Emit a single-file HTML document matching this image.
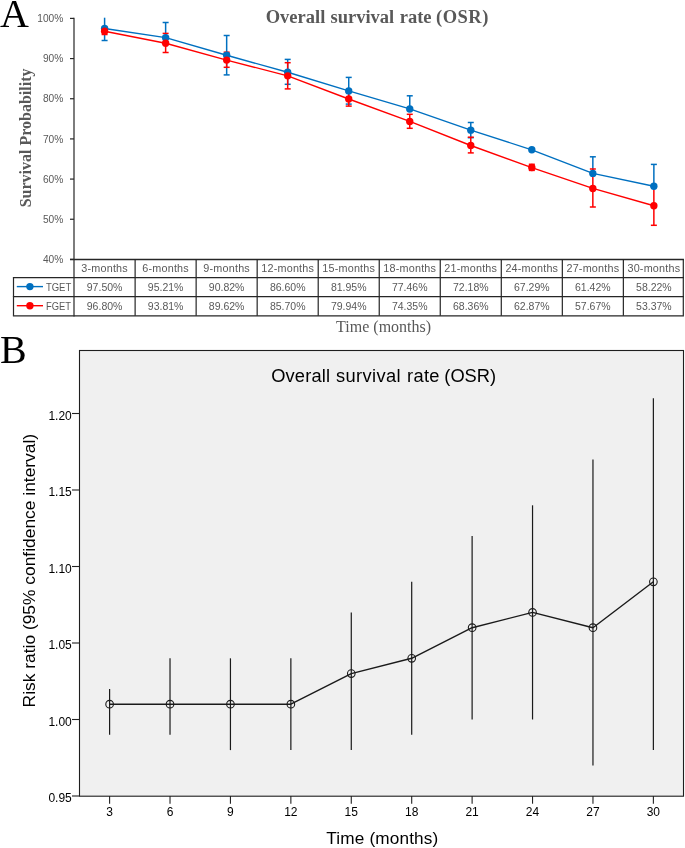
<!DOCTYPE html>
<html><head><meta charset="utf-8"><title>Overall survival rate (OSR)</title>
<style>
html,body{margin:0;padding:0;background:#fff;}
body{width:685px;height:848px;overflow:hidden;font-family:"Liberation Sans",sans-serif;}
svg{display:block;will-change:transform;}
svg text{font-family:"Liberation Sans",sans-serif;}
svg text[font-family="Liberation Serif"]{font-family:"Liberation Serif",serif;}
</style></head>
<body>
<svg width="685" height="848" viewBox="0 0 685 848">
<text x="0" y="27" font-family="Liberation Serif" font-size="40" fill="#000">A</text>
<text y="23.4" font-family="Liberation Serif" font-weight="bold" font-size="18.5" fill="#595959"><tspan x="265.7">Overall</tspan> <tspan x="330.5">survival</tspan> <tspan x="399.7">rate</tspan> <tspan x="436.0" letter-spacing="0.5">(OSR)</tspan></text>
<text transform="translate(30.5,137.9) rotate(-90)" text-anchor="middle" font-family="Liberation Serif" font-weight="bold" font-size="16" fill="#595959">Survival Probability</text>
<line x1="70" y1="18.40" x2="74" y2="18.40" stroke="#262626" stroke-width="1.2"/>
<text x="63.3" y="22.10" text-anchor="end" font-size="10.2" fill="#595959">100%</text>
<line x1="70" y1="58.57" x2="74" y2="58.57" stroke="#262626" stroke-width="1.2"/>
<text x="63.3" y="62.27" text-anchor="end" font-size="10.2" fill="#595959">90%</text>
<line x1="70" y1="98.74" x2="74" y2="98.74" stroke="#262626" stroke-width="1.2"/>
<text x="63.3" y="102.44" text-anchor="end" font-size="10.2" fill="#595959">80%</text>
<line x1="70" y1="138.91" x2="74" y2="138.91" stroke="#262626" stroke-width="1.2"/>
<text x="63.3" y="142.61" text-anchor="end" font-size="10.2" fill="#595959">70%</text>
<line x1="70" y1="179.08" x2="74" y2="179.08" stroke="#262626" stroke-width="1.2"/>
<text x="63.3" y="182.78" text-anchor="end" font-size="10.2" fill="#595959">60%</text>
<line x1="70" y1="219.25" x2="74" y2="219.25" stroke="#262626" stroke-width="1.2"/>
<text x="63.3" y="222.95" text-anchor="end" font-size="10.2" fill="#595959">50%</text>
<line x1="70" y1="259.42" x2="74" y2="259.42" stroke="#262626" stroke-width="1.2"/>
<text x="63.3" y="263.12" text-anchor="end" font-size="10.2" fill="#595959">40%</text>
<line x1="74.0" y1="17.8" x2="74.0" y2="316.4" stroke="#262626" stroke-width="1.2"/>
<line x1="70" y1="259.5" x2="683.95" y2="259.5" stroke="#262626" stroke-width="1.3"/>
<line x1="12.9" y1="277.6" x2="683.95" y2="277.6" stroke="#262626" stroke-width="1.3"/>
<line x1="12.9" y1="296.7" x2="683.95" y2="296.7" stroke="#262626" stroke-width="1.3"/>
<line x1="12.9" y1="315.8" x2="683.95" y2="315.8" stroke="#262626" stroke-width="1.3"/>
<line x1="13.5" y1="277.6" x2="13.5" y2="315.8" stroke="#262626" stroke-width="1.2"/>
<line x1="135.12" y1="259.5" x2="135.12" y2="315.8" stroke="#262626" stroke-width="1.2"/>
<line x1="196.14" y1="259.5" x2="196.14" y2="315.8" stroke="#262626" stroke-width="1.2"/>
<line x1="257.17" y1="259.5" x2="257.17" y2="315.8" stroke="#262626" stroke-width="1.2"/>
<line x1="318.21" y1="259.5" x2="318.21" y2="315.8" stroke="#262626" stroke-width="1.2"/>
<line x1="379.24" y1="259.5" x2="379.24" y2="315.8" stroke="#262626" stroke-width="1.2"/>
<line x1="440.26" y1="259.5" x2="440.26" y2="315.8" stroke="#262626" stroke-width="1.2"/>
<line x1="501.29" y1="259.5" x2="501.29" y2="315.8" stroke="#262626" stroke-width="1.2"/>
<line x1="562.33" y1="259.5" x2="562.33" y2="315.8" stroke="#262626" stroke-width="1.2"/>
<line x1="623.36" y1="259.5" x2="623.36" y2="315.8" stroke="#262626" stroke-width="1.2"/>
<line x1="683.30" y1="259.5" x2="683.30" y2="315.8" stroke="#262626" stroke-width="1.2"/>
<text x="104.60" y="271.7" text-anchor="middle" font-size="10.8" letter-spacing="0.2" fill="#595959">3-months</text>
<text x="104.60" y="290.7" text-anchor="middle" font-size="10.5" fill="#595959">97.50%</text>
<text x="104.60" y="309.8" text-anchor="middle" font-size="10.5" fill="#595959">96.80%</text>
<text x="165.63" y="271.7" text-anchor="middle" font-size="10.8" letter-spacing="0.2" fill="#595959">6-months</text>
<text x="165.63" y="290.7" text-anchor="middle" font-size="10.5" fill="#595959">95.21%</text>
<text x="165.63" y="309.8" text-anchor="middle" font-size="10.5" fill="#595959">93.81%</text>
<text x="226.66" y="271.7" text-anchor="middle" font-size="10.8" letter-spacing="0.2" fill="#595959">9-months</text>
<text x="226.66" y="290.7" text-anchor="middle" font-size="10.5" fill="#595959">90.82%</text>
<text x="226.66" y="309.8" text-anchor="middle" font-size="10.5" fill="#595959">89.62%</text>
<text x="287.69" y="271.7" text-anchor="middle" font-size="10.8" letter-spacing="0.2" fill="#595959">12-months</text>
<text x="287.69" y="290.7" text-anchor="middle" font-size="10.5" fill="#595959">86.60%</text>
<text x="287.69" y="309.8" text-anchor="middle" font-size="10.5" fill="#595959">85.70%</text>
<text x="348.72" y="271.7" text-anchor="middle" font-size="10.8" letter-spacing="0.2" fill="#595959">15-months</text>
<text x="348.72" y="290.7" text-anchor="middle" font-size="10.5" fill="#595959">81.95%</text>
<text x="348.72" y="309.8" text-anchor="middle" font-size="10.5" fill="#595959">79.94%</text>
<text x="409.75" y="271.7" text-anchor="middle" font-size="10.8" letter-spacing="0.2" fill="#595959">18-months</text>
<text x="409.75" y="290.7" text-anchor="middle" font-size="10.5" fill="#595959">77.46%</text>
<text x="409.75" y="309.8" text-anchor="middle" font-size="10.5" fill="#595959">74.35%</text>
<text x="470.78" y="271.7" text-anchor="middle" font-size="10.8" letter-spacing="0.2" fill="#595959">21-months</text>
<text x="470.78" y="290.7" text-anchor="middle" font-size="10.5" fill="#595959">72.18%</text>
<text x="470.78" y="309.8" text-anchor="middle" font-size="10.5" fill="#595959">68.36%</text>
<text x="531.81" y="271.7" text-anchor="middle" font-size="10.8" letter-spacing="0.2" fill="#595959">24-months</text>
<text x="531.81" y="290.7" text-anchor="middle" font-size="10.5" fill="#595959">67.29%</text>
<text x="531.81" y="309.8" text-anchor="middle" font-size="10.5" fill="#595959">62.87%</text>
<text x="592.84" y="271.7" text-anchor="middle" font-size="10.8" letter-spacing="0.2" fill="#595959">27-months</text>
<text x="592.84" y="290.7" text-anchor="middle" font-size="10.5" fill="#595959">61.42%</text>
<text x="592.84" y="309.8" text-anchor="middle" font-size="10.5" fill="#595959">57.67%</text>
<text x="653.87" y="271.7" text-anchor="middle" font-size="10.8" letter-spacing="0.2" fill="#595959">30-months</text>
<text x="653.87" y="290.7" text-anchor="middle" font-size="10.5" fill="#595959">58.22%</text>
<text x="653.87" y="309.8" text-anchor="middle" font-size="10.5" fill="#595959">53.37%</text>
<line x1="16.8" y1="286.6" x2="43" y2="286.6" stroke="#0070C0" stroke-width="1.4"/>
<circle cx="29.9" cy="286.6" r="3.7" fill="#0070C0"/>
<text x="45.9" y="290.8" font-size="10.4" textLength="25.4" lengthAdjust="spacingAndGlyphs" fill="#595959">TGET</text>
<line x1="16.8" y1="305.7" x2="43" y2="305.7" stroke="#FF0000" stroke-width="1.4"/>
<circle cx="29.9" cy="305.7" r="3.7" fill="#FF0000"/>
<text x="46.1" y="309.9" font-size="10.4" textLength="25.0" lengthAdjust="spacingAndGlyphs" fill="#595959">FGET</text>
<text x="383.6" y="332.1" text-anchor="middle" font-family="Liberation Serif" font-size="16" fill="#595959">Time (months)</text>
<polyline points="104.60,28.44 165.63,37.64 226.66,55.28 287.69,72.23 348.72,90.91 409.75,108.94 470.78,130.15 531.81,149.80 592.84,173.38 653.87,186.23" fill="none" stroke="#0070C0" stroke-width="1.4" stroke-linejoin="round"/>
<line x1="104.60" y1="17.7" x2="104.60" y2="40.5" stroke="#0070C0" stroke-width="1.5"/>
<line x1="101.60" y1="40.5" x2="107.60" y2="40.5" stroke="#0070C0" stroke-width="1.5"/>
<line x1="165.63" y1="22.5" x2="165.63" y2="37.64" stroke="#0070C0" stroke-width="1.5"/>
<line x1="162.63" y1="22.5" x2="168.63" y2="22.5" stroke="#0070C0" stroke-width="1.5"/>
<line x1="226.66" y1="35.5" x2="226.66" y2="74.9" stroke="#0070C0" stroke-width="1.5"/>
<line x1="223.66" y1="35.5" x2="229.66" y2="35.5" stroke="#0070C0" stroke-width="1.5"/>
<line x1="223.66" y1="74.9" x2="229.66" y2="74.9" stroke="#0070C0" stroke-width="1.5"/>
<line x1="287.69" y1="59.4" x2="287.69" y2="84.3" stroke="#0070C0" stroke-width="1.5"/>
<line x1="284.69" y1="59.4" x2="290.69" y2="59.4" stroke="#0070C0" stroke-width="1.5"/>
<line x1="284.69" y1="84.3" x2="290.69" y2="84.3" stroke="#0070C0" stroke-width="1.5"/>
<line x1="348.72" y1="77.4" x2="348.72" y2="104.1" stroke="#0070C0" stroke-width="1.5"/>
<line x1="345.72" y1="77.4" x2="351.72" y2="77.4" stroke="#0070C0" stroke-width="1.5"/>
<line x1="345.72" y1="104.1" x2="351.72" y2="104.1" stroke="#0070C0" stroke-width="1.5"/>
<line x1="409.75" y1="95.8" x2="409.75" y2="108.94" stroke="#0070C0" stroke-width="1.5"/>
<line x1="406.75" y1="95.8" x2="412.75" y2="95.8" stroke="#0070C0" stroke-width="1.5"/>
<line x1="470.78" y1="122.5" x2="470.78" y2="137.7" stroke="#0070C0" stroke-width="1.5"/>
<line x1="467.78" y1="122.5" x2="473.78" y2="122.5" stroke="#0070C0" stroke-width="1.5"/>
<line x1="467.78" y1="137.7" x2="473.78" y2="137.7" stroke="#0070C0" stroke-width="1.5"/>
<line x1="592.84" y1="156.8" x2="592.84" y2="173.38" stroke="#0070C0" stroke-width="1.5"/>
<line x1="589.84" y1="156.8" x2="595.84" y2="156.8" stroke="#0070C0" stroke-width="1.5"/>
<line x1="653.87" y1="164.4" x2="653.87" y2="186.23" stroke="#0070C0" stroke-width="1.5"/>
<line x1="650.87" y1="164.4" x2="656.87" y2="164.4" stroke="#0070C0" stroke-width="1.5"/>
<polyline points="104.60,31.25 165.63,43.27 226.66,60.10 287.69,75.84 348.72,98.98 409.75,121.44 470.78,145.50 531.81,167.55 592.84,188.44 653.87,205.71" fill="none" stroke="#FF0000" stroke-width="1.4" stroke-linejoin="round"/>
<line x1="104.60" y1="30.0" x2="104.60" y2="34.5" stroke="#FF0000" stroke-width="1.5"/>
<line x1="101.60" y1="30.0" x2="107.60" y2="30.0" stroke="#FF0000" stroke-width="1.5"/>
<line x1="101.60" y1="34.5" x2="107.60" y2="34.5" stroke="#FF0000" stroke-width="1.5"/>
<line x1="165.63" y1="33.4" x2="165.63" y2="52.5" stroke="#FF0000" stroke-width="1.5"/>
<line x1="162.63" y1="33.4" x2="168.63" y2="33.4" stroke="#FF0000" stroke-width="1.5"/>
<line x1="162.63" y1="52.5" x2="168.63" y2="52.5" stroke="#FF0000" stroke-width="1.5"/>
<line x1="226.66" y1="52.2" x2="226.66" y2="67.3" stroke="#FF0000" stroke-width="1.5"/>
<line x1="223.66" y1="52.2" x2="229.66" y2="52.2" stroke="#FF0000" stroke-width="1.5"/>
<line x1="223.66" y1="67.3" x2="229.66" y2="67.3" stroke="#FF0000" stroke-width="1.5"/>
<line x1="287.69" y1="62.7" x2="287.69" y2="88.9" stroke="#FF0000" stroke-width="1.5"/>
<line x1="284.69" y1="62.7" x2="290.69" y2="62.7" stroke="#FF0000" stroke-width="1.5"/>
<line x1="284.69" y1="88.9" x2="290.69" y2="88.9" stroke="#FF0000" stroke-width="1.5"/>
<line x1="348.72" y1="92.0" x2="348.72" y2="106.1" stroke="#FF0000" stroke-width="1.5"/>
<line x1="345.72" y1="92.0" x2="351.72" y2="92.0" stroke="#FF0000" stroke-width="1.5"/>
<line x1="345.72" y1="106.1" x2="351.72" y2="106.1" stroke="#FF0000" stroke-width="1.5"/>
<line x1="409.75" y1="114.3" x2="409.75" y2="128.3" stroke="#FF0000" stroke-width="1.5"/>
<line x1="406.75" y1="114.3" x2="412.75" y2="114.3" stroke="#FF0000" stroke-width="1.5"/>
<line x1="406.75" y1="128.3" x2="412.75" y2="128.3" stroke="#FF0000" stroke-width="1.5"/>
<line x1="470.78" y1="137.2" x2="470.78" y2="152.9" stroke="#FF0000" stroke-width="1.5"/>
<line x1="467.78" y1="137.2" x2="473.78" y2="137.2" stroke="#FF0000" stroke-width="1.5"/>
<line x1="467.78" y1="152.9" x2="473.78" y2="152.9" stroke="#FF0000" stroke-width="1.5"/>
<line x1="531.81" y1="164.3" x2="531.81" y2="170.4" stroke="#FF0000" stroke-width="1.5"/>
<line x1="528.81" y1="164.3" x2="534.81" y2="164.3" stroke="#FF0000" stroke-width="1.5"/>
<line x1="528.81" y1="170.4" x2="534.81" y2="170.4" stroke="#FF0000" stroke-width="1.5"/>
<line x1="592.84" y1="169.0" x2="592.84" y2="207.0" stroke="#FF0000" stroke-width="1.5"/>
<line x1="589.84" y1="169.0" x2="595.84" y2="169.0" stroke="#FF0000" stroke-width="1.5"/>
<line x1="589.84" y1="207.0" x2="595.84" y2="207.0" stroke="#FF0000" stroke-width="1.5"/>
<line x1="653.87" y1="186.5" x2="653.87" y2="225.3" stroke="#FF0000" stroke-width="1.5"/>
<line x1="650.87" y1="186.5" x2="656.87" y2="186.5" stroke="#FF0000" stroke-width="1.5"/>
<line x1="650.87" y1="225.3" x2="656.87" y2="225.3" stroke="#FF0000" stroke-width="1.5"/>
<circle cx="104.60" cy="28.44" r="3.7" fill="#0070C0"/>
<circle cx="165.63" cy="37.64" r="3.7" fill="#0070C0"/>
<circle cx="226.66" cy="55.28" r="3.7" fill="#0070C0"/>
<circle cx="287.69" cy="72.23" r="3.7" fill="#0070C0"/>
<circle cx="348.72" cy="90.91" r="3.7" fill="#0070C0"/>
<circle cx="409.75" cy="108.94" r="3.7" fill="#0070C0"/>
<circle cx="470.78" cy="130.15" r="3.7" fill="#0070C0"/>
<circle cx="531.81" cy="149.80" r="3.7" fill="#0070C0"/>
<circle cx="592.84" cy="173.38" r="3.7" fill="#0070C0"/>
<circle cx="653.87" cy="186.23" r="3.7" fill="#0070C0"/>
<circle cx="104.60" cy="31.25" r="3.7" fill="#FF0000"/>
<circle cx="165.63" cy="43.27" r="3.7" fill="#FF0000"/>
<circle cx="226.66" cy="60.10" r="3.7" fill="#FF0000"/>
<circle cx="287.69" cy="75.84" r="3.7" fill="#FF0000"/>
<circle cx="348.72" cy="98.98" r="3.7" fill="#FF0000"/>
<circle cx="409.75" cy="121.44" r="3.7" fill="#FF0000"/>
<circle cx="470.78" cy="145.50" r="3.7" fill="#FF0000"/>
<circle cx="531.81" cy="167.55" r="3.7" fill="#FF0000"/>
<circle cx="592.84" cy="188.44" r="3.7" fill="#FF0000"/>
<circle cx="653.87" cy="205.71" r="3.7" fill="#FF0000"/>
<text x="0" y="363.3" font-family="Liberation Serif" font-size="40" fill="#000">B</text>
<rect x="79.5" y="350.5" width="604" height="445.7" fill="#F0F0F0" stroke="#1e1e1e" stroke-width="1.1"/>
<text y="381.8" font-size="18.3" fill="#000"><tspan x="271.2" letter-spacing="0.15">Overall</tspan> <tspan x="335.9" letter-spacing="0.4">survival</tspan> <tspan x="407.1" letter-spacing="0.3">rate</tspan> <tspan x="444.3">(OSR)</tspan></text>
<line x1="72" y1="796.00" x2="79.5" y2="796.00" stroke="#222" stroke-width="1.1"/>
<text x="71.8" y="802.10" text-anchor="end" font-size="12" fill="#000">0.95</text>
<line x1="72" y1="719.50" x2="79.5" y2="719.50" stroke="#222" stroke-width="1.1"/>
<text x="71.8" y="725.60" text-anchor="end" font-size="12" fill="#000">1.00</text>
<line x1="72" y1="643.00" x2="79.5" y2="643.00" stroke="#222" stroke-width="1.1"/>
<text x="71.8" y="649.10" text-anchor="end" font-size="12" fill="#000">1.05</text>
<line x1="72" y1="566.50" x2="79.5" y2="566.50" stroke="#222" stroke-width="1.1"/>
<text x="71.8" y="572.60" text-anchor="end" font-size="12" fill="#000">1.10</text>
<line x1="72" y1="490.00" x2="79.5" y2="490.00" stroke="#222" stroke-width="1.1"/>
<text x="71.8" y="496.10" text-anchor="end" font-size="12" fill="#000">1.15</text>
<line x1="72" y1="413.50" x2="79.5" y2="413.50" stroke="#222" stroke-width="1.1"/>
<text x="71.8" y="419.60" text-anchor="end" font-size="12" fill="#000">1.20</text>
<line x1="109.60" y1="796" x2="109.60" y2="803.7" stroke="#222" stroke-width="1.1"/>
<text x="109.60" y="815.7" text-anchor="middle" font-size="12" fill="#000">3</text>
<line x1="170.02" y1="796" x2="170.02" y2="803.7" stroke="#222" stroke-width="1.1"/>
<text x="170.02" y="815.7" text-anchor="middle" font-size="12" fill="#000">6</text>
<line x1="230.44" y1="796" x2="230.44" y2="803.7" stroke="#222" stroke-width="1.1"/>
<text x="230.44" y="815.7" text-anchor="middle" font-size="12" fill="#000">9</text>
<line x1="290.86" y1="796" x2="290.86" y2="803.7" stroke="#222" stroke-width="1.1"/>
<text x="290.86" y="815.7" text-anchor="middle" font-size="12" fill="#000">12</text>
<line x1="351.28" y1="796" x2="351.28" y2="803.7" stroke="#222" stroke-width="1.1"/>
<text x="351.28" y="815.7" text-anchor="middle" font-size="12" fill="#000">15</text>
<line x1="411.70" y1="796" x2="411.70" y2="803.7" stroke="#222" stroke-width="1.1"/>
<text x="411.70" y="815.7" text-anchor="middle" font-size="12" fill="#000">18</text>
<line x1="472.12" y1="796" x2="472.12" y2="803.7" stroke="#222" stroke-width="1.1"/>
<text x="472.12" y="815.7" text-anchor="middle" font-size="12" fill="#000">21</text>
<line x1="532.54" y1="796" x2="532.54" y2="803.7" stroke="#222" stroke-width="1.1"/>
<text x="532.54" y="815.7" text-anchor="middle" font-size="12" fill="#000">24</text>
<line x1="592.96" y1="796" x2="592.96" y2="803.7" stroke="#222" stroke-width="1.1"/>
<text x="592.96" y="815.7" text-anchor="middle" font-size="12" fill="#000">27</text>
<line x1="653.38" y1="796" x2="653.38" y2="803.7" stroke="#222" stroke-width="1.1"/>
<text x="653.38" y="815.7" text-anchor="middle" font-size="12" fill="#000">30</text>
<text x="382.4" y="843.9" text-anchor="middle" font-size="17.2" letter-spacing="0.15" fill="#000">Time (months)</text>
<text transform="translate(34.7,570.65) rotate(-90)" text-anchor="middle" font-size="17.4" fill="#000">Risk ratio (95% confidence interval)</text>
<line x1="109.60" y1="688.90" x2="109.60" y2="734.80" stroke="#1a1a1a" stroke-width="1.2"/>
<line x1="170.02" y1="658.30" x2="170.02" y2="734.80" stroke="#1a1a1a" stroke-width="1.2"/>
<line x1="230.44" y1="658.30" x2="230.44" y2="750.10" stroke="#1a1a1a" stroke-width="1.2"/>
<line x1="290.86" y1="658.30" x2="290.86" y2="750.10" stroke="#1a1a1a" stroke-width="1.2"/>
<line x1="351.28" y1="612.40" x2="351.28" y2="750.10" stroke="#1a1a1a" stroke-width="1.2"/>
<line x1="411.70" y1="581.80" x2="411.70" y2="734.80" stroke="#1a1a1a" stroke-width="1.2"/>
<line x1="472.12" y1="535.90" x2="472.12" y2="719.50" stroke="#1a1a1a" stroke-width="1.2"/>
<line x1="532.54" y1="505.30" x2="532.54" y2="719.50" stroke="#1a1a1a" stroke-width="1.2"/>
<line x1="592.96" y1="459.40" x2="592.96" y2="765.40" stroke="#1a1a1a" stroke-width="1.2"/>
<line x1="653.38" y1="398.20" x2="653.38" y2="750.10" stroke="#1a1a1a" stroke-width="1.2"/>
<polyline points="109.60,704.20 170.02,704.20 230.44,704.20 290.86,704.20 351.28,673.60 411.70,658.30 472.12,627.70 532.54,612.40 592.96,627.70 653.38,581.80" fill="none" stroke="#1a1a1a" stroke-width="1.4" stroke-linejoin="round"/>
<circle cx="109.60" cy="704.20" r="3.8" fill="none" stroke="#1a1a1a" stroke-width="1.1"/>
<circle cx="170.02" cy="704.20" r="3.8" fill="none" stroke="#1a1a1a" stroke-width="1.1"/>
<circle cx="230.44" cy="704.20" r="3.8" fill="none" stroke="#1a1a1a" stroke-width="1.1"/>
<circle cx="290.86" cy="704.20" r="3.8" fill="none" stroke="#1a1a1a" stroke-width="1.1"/>
<circle cx="351.28" cy="673.60" r="3.8" fill="none" stroke="#1a1a1a" stroke-width="1.1"/>
<circle cx="411.70" cy="658.30" r="3.8" fill="none" stroke="#1a1a1a" stroke-width="1.1"/>
<circle cx="472.12" cy="627.70" r="3.8" fill="none" stroke="#1a1a1a" stroke-width="1.1"/>
<circle cx="532.54" cy="612.40" r="3.8" fill="none" stroke="#1a1a1a" stroke-width="1.1"/>
<circle cx="592.96" cy="627.70" r="3.8" fill="none" stroke="#1a1a1a" stroke-width="1.1"/>
<circle cx="653.38" cy="581.80" r="3.8" fill="none" stroke="#1a1a1a" stroke-width="1.1"/>
</svg>
</body></html>
